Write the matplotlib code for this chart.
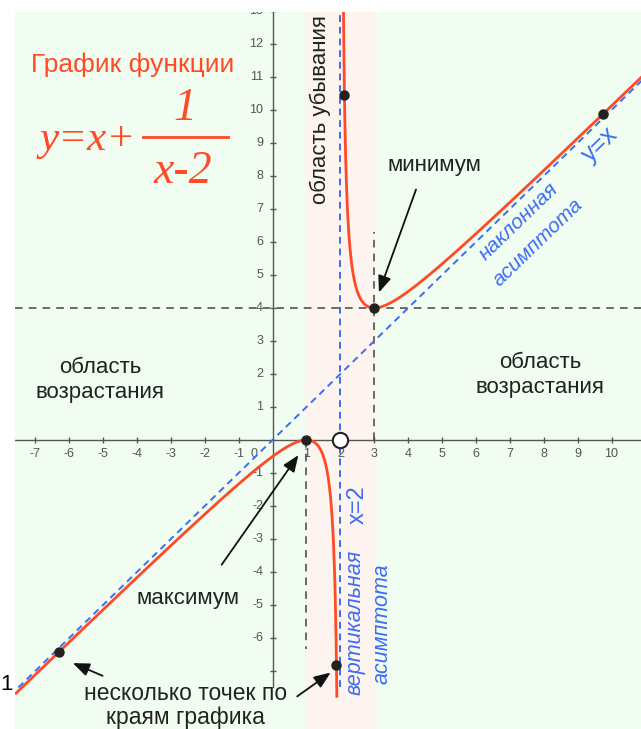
import numpy as np
import matplotlib.pyplot as plt

# function shown in the picture: y = x + 1/(x-2)
def f(x):
    return x + 1 / (x - 2)

# marked points on the curve
dot_x = [-6.3, 1.0, 2.12, 3.0, 9.75, 1.885]
hole_x = [2.0]
hole_y = [0.0]

x_ticks = [-7, -6, -5, -4, -3, -2, -1, 1, 2, 3, 4, 5, 6, 7, 8, 9, 10]
y_ticks = [-6, -5, -4, -3, -2, -1, 1, 2, 3, 4, 5, 6, 7, 8, 9, 10, 11, 12, 13]

RED = '#ff4a26'
BLUE = '#3d6cf2'
GRAY = '#555555'
INK = '#222222'
SANS = 'Liberation Sans'
SERIF = 'Liberation Serif'

fig = plt.figure(figsize=(6.41, 7.29), dpi=100)
ax = fig.add_axes([15 / 641, 0, 626 / 641, 717 / 729])
ax.set_xlim(-7.60, 10.87)
ax.set_ylim(-8.76, 12.97)
ax.axis('off')
ax.add_patch(plt.Rectangle((-7.6, -9), 20, 23, color='#f1fdf1', zorder=0))
ax.axvspan(1, 3, color='#fdf4ef', zorder=0.5)

# axes lines and ticks
ax.plot([-7.6, 10.87], [0, 0], color=GRAY, lw=1, zorder=2)
ax.plot([0, 0], [-7.5, 13], color=GRAY, lw=1, zorder=2)
ax.plot(x_ticks, [0] * len(x_ticks), '|', color=GRAY, ms=5, mew=1, zorder=2)
ax.plot([0] * (len(y_ticks) + 1), y_ticks + [-7], '_', color=GRAY, ms=5, mew=1, zorder=2)
for v in x_ticks:
    ax.text(v, -0.44, str(v), ha='center', va='center', fontsize=9, color=GRAY,
            family=SANS, clip_on=True)
ax.text(-0.55, -0.44, '0', ha='center', va='center', fontsize=9, color=GRAY, family=SANS)
for v in y_ticks:
    ax.text(-0.28, v, str(v), ha='right', va='center', fontsize=9, color=GRAY,
            family=SANS, clip_on=True)

# helper dashed lines
dash = dict(color='#444444', lw=1.1, dashes=(5, 4), zorder=3)
ax.plot([-7.6, 10.87], [4, 4], **dash)
ax.plot([3, 3], [0, 6.3], **dash)
ax.plot([1, 1], [0, -6.35], **dash)

# asymptotes
ax.plot([-7.5, 11], [-7.5, 11], color=BLUE, lw=1.4, dashes=(3.5, 2.5), zorder=3)
ax.plot([2, 2], [-7.5, 13], color=BLUE, lw=1.4, dashes=(3.5, 2.5), zorder=3)

# curve
xl = np.linspace(-7.6, 1.897, 800)
xr = np.linspace(2.075, 10.9, 800)
ax.plot(xl, f(xl), color=RED, lw=2, zorder=4, solid_capstyle='butt')
ax.plot(xr, f(xr), color=RED, lw=2, zorder=4)
dx = np.array(dot_x)
ax.plot(dx, f(dx), 'o', color=INK, ms=6.5, zorder=5)
ax.plot(hole_x, hole_y, 'o', mfc='white', mec=INK, mew=1.5, ms=11, zorder=5)

# title and formula
ax.text(-4.12, 11.36, 'График функции', ha='center', va='center', fontsize=19,
        color=RED, family=SANS)
ax.text(-6.86, 9.09, 'y=x+', ha='left', va='center', fontsize=31, color=RED,
        family=SERIF, style='italic')
ax.plot([-3.82, -1.31], [9.18, 9.18], color=RED, lw=2)
ax.text(-2.58, 10.05, '1', ha='center', va='center', fontsize=33, color=RED,
        family=SERIF, style='italic')
ax.text(-2.64, 8.12, 'x-2', ha='center', va='center', fontsize=33, color=RED,
        family=SERIF, style='italic')

# region labels
ax.text(1.40, 10.0, 'область убывания', rotation=90, ha='center', va='center',
        fontsize=16, family=SANS, color=INK)
ax.text(-5.09, 1.82, 'область\nвозрастания', ha='center', va='center',
        fontsize=16, family=SANS, color=INK, linespacing=1.2)
ax.text(7.89, 1.97, 'область\nвозрастания', ha='center', va='center',
        fontsize=16, family=SANS, color=INK, linespacing=1.2)

# extremum labels and arrows
arrow = dict(arrowstyle='-|>,head_length=1.0,head_width=0.4', color='#111111', lw=1.3)
ax.text(4.79, 8.33, 'минимум', ha='center', va='center', fontsize=16, family=SANS,
        color=INK)
ax.annotate('', xy=(3.11, 4.39), xytext=(4.26, 7.67), arrowprops=arrow, zorder=6)
ax.text(-2.49, -4.79, 'максимум', ha='center', va='center', fontsize=16, family=SANS,
        color=INK)
ax.annotate('', xy=(0.81, -0.39), xytext=(-1.55, -3.85), arrowprops=arrow, zorder=6)
ax.text(-2.58, -7.68, 'несколько точек по', ha='center', va='center', fontsize=16.5,
        family=SANS, color=INK)
ax.text(-2.58, -8.40, 'краям графика', ha='center', va='center', fontsize=16.5,
        family=SANS, color=INK)
ax.annotate('', xy=(-5.97, -6.73), xytext=(-4.94, -7.18), arrowprops=arrow, zorder=6)
ax.annotate('', xy=(1.78, -7.0), xytext=(0.66, -7.82), arrowprops=arrow, zorder=6)

# asymptote labels
ax.text(2.52, -1.97, 'x=2', rotation=90, ha='center', va='center', fontsize=17,
        family=SANS, color=BLUE)
ax.text(2.43, -5.52, 'вертикальная', rotation=90, ha='center', va='center',
        fontsize=15.5, family=SANS, style='italic', color=BLUE)
ax.text(3.23, -5.58, 'асимптота', rotation=90, ha='center', va='center',
        fontsize=15.5, family=SANS, style='italic', color=BLUE)
ax.text(7.27, 6.61, 'наклонная', rotation=44, ha='center', va='center',
        fontsize=15, family=SANS, style='italic', color=BLUE, rotation_mode='anchor')
ax.text(7.83, 6.0, 'асимптота', rotation=44, ha='center', va='center',
        fontsize=15, family=SANS, style='italic', color=BLUE, rotation_mode='anchor')
ax.text(9.66, 8.94, 'y=x', rotation=44, ha='center', va='center', fontsize=18,
        family=SANS, color=BLUE, rotation_mode='anchor')

fig.text(0.0, 1 - 685 / 729, '1', ha='left', va='center', fontsize=16, family=SANS)

fig.savefig('out.png', dpi=100, facecolor='white')
